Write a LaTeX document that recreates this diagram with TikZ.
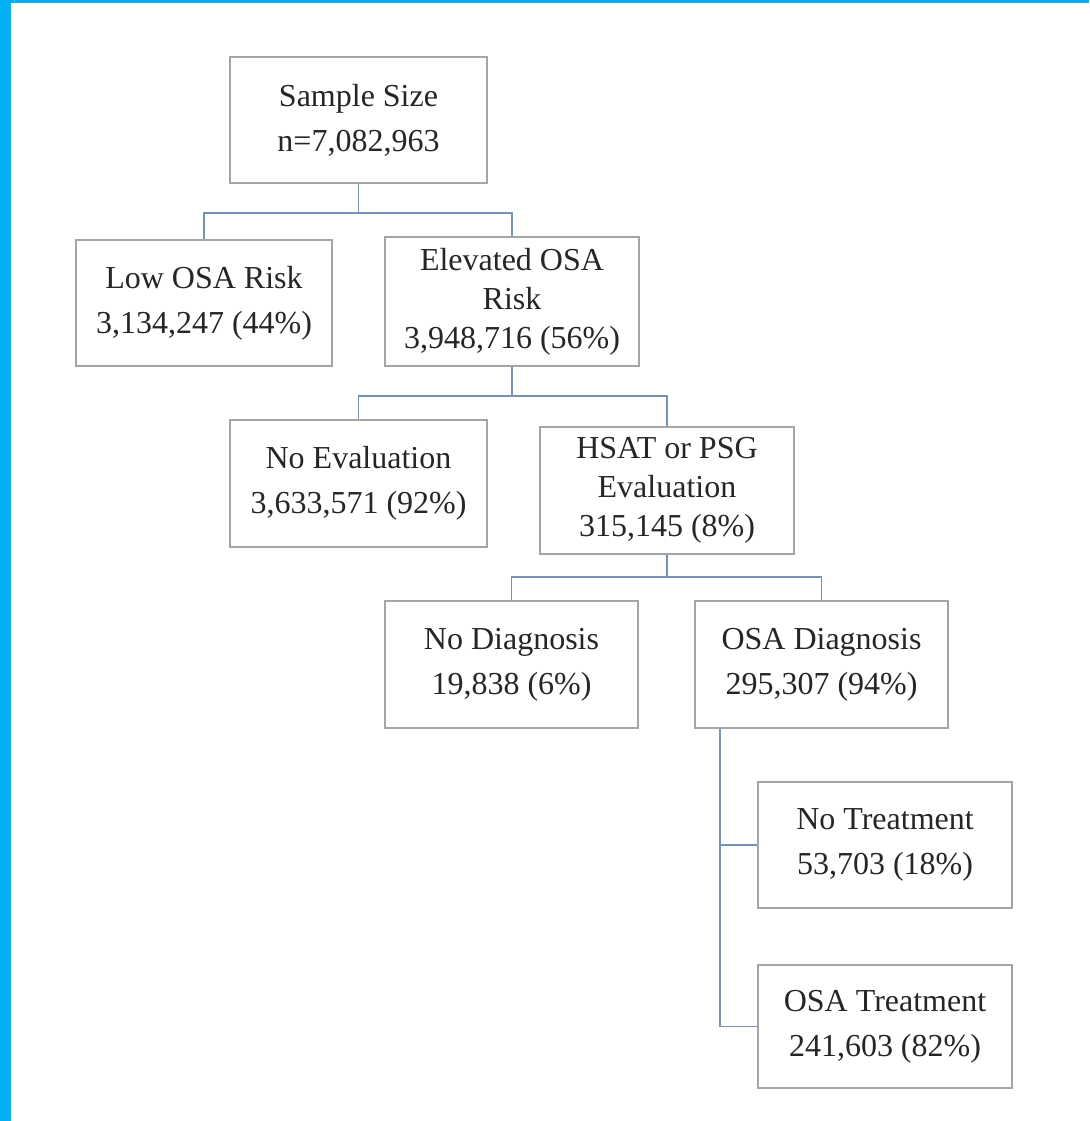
\documentclass[tikz,border=0pt]{standalone}
\usepackage{fontspec}
\setmainfont{Liberation Serif}
\usetikzlibrary{calc}
\definecolor{frame}{RGB}{0,176,240}
\definecolor{conn}{RGB}{118,146,180}
\definecolor{boxline}{RGB}{165,165,165}
\begin{document}
\begin{tikzpicture}[x=1pt,y=-1pt,
  box/.style={draw=boxline,line width=1.6pt,fill=white,inner sep=0pt,align=center,
    text=black!85,font=\fontsize{32}{45}\selectfont},
  box3/.style={box,font=\fontsize{32}{39}\selectfont},
  link/.style={draw=conn,line width=1.8pt}]
\useasboundingbox (0,0) rectangle (1089,1121);
\fill[white] (0,0) rectangle (1089,1121);
\fill[frame] (0,0) rectangle (11,1121);
\fill[frame] (0,0) rectangle (1089,3);
\node[box,minimum width=257,minimum height=126] (ss) at (358.5,120) {Sample Size\\n=7,082,963};
\node[box,minimum width=256,minimum height=126] (low) at (204,303) {Low OSA Risk\\3,134,247 (44\%)};
\node[box3,minimum width=254,minimum height=129] (elev) at (512,301.5) {Elevated OSA\\Risk\\3,948,716 (56\%)};
\node[box,minimum width=257,minimum height=127] (noeval) at (358.5,483.5) {No Evaluation\\3,633,571 (92\%)};
\node[box3,minimum width=254,minimum height=127] (hsat) at (667,490.5) {HSAT or PSG\\Evaluation\\315,145 (8\%)};
\node[box,minimum width=253,minimum height=127] (nodiag) at (511.5,664.5) {No Diagnosis\\19,838 (6\%)};
\node[box,minimum width=253,minimum height=127] (osadiag) at (821.5,664.5) {OSA Diagnosis\\295,307 (94\%)};
\node[box,minimum width=254,minimum height=126] (notreat) at (885,845) {No Treatment\\53,703 (18\%)};
\node[box,minimum width=254,minimum height=123] (osatreat) at (885,1026.5) {OSA Treatment\\241,603 (82\%)};
\draw[link] (ss.south) -- ++(0,29) -| (low.north);
\draw[link] (ss.south) -- ++(0,29) -| (elev.north);
\draw[link] (elev.south) -- ++(0,29) -| (noeval.north);
\draw[link] (elev.south) -- ++(0,29) -| (hsat.north);
\draw[link] (hsat.south) -- ++(0,22) -| (nodiag.north);
\draw[link] (hsat.south) -- ++(0,22) -| (osadiag.north);
\coordinate (dtap) at ($(osadiag.south west)+(26,0)$);
\draw[link] (dtap) |- (notreat.west);
\draw[link] (dtap) |- (osatreat.west);
\end{tikzpicture}
\end{document}
